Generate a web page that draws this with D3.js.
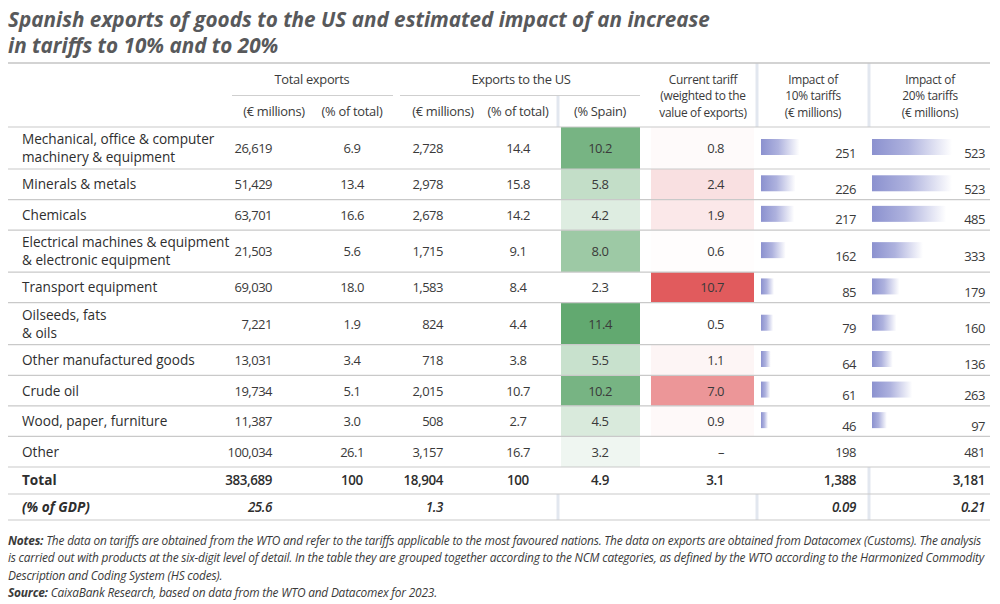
<!DOCTYPE html>
<html>
<head>
<meta charset="utf-8">
<script src="https://cdn.jsdelivr.net/npm/d3@7"></script>
<style>
  body { margin: 0; background: #fff; }
  svg text { font-family: "Open Sans", "Noto Sans", sans-serif; }
</style>
</head>
<body>
<script>
// data
const categories = [
  ["Mechanical, office & computer", "machinery & equipment"],
  ["Minerals & metals"],
  ["Chemicals"],
  ["Electrical machines & equipment", "& electronic equipment"],
  ["Transport equipment"],
  ["Oilseeds, fats", "& oils"],
  ["Other manufactured goods"],
  ["Crude oil"],
  ["Wood, paper, furniture"],
  ["Other"]
];
const totalExports = [26619, 51429, 63701, 21503, 69030, 7221, 13031, 19734, 11387, 100034];
const totalShare = [6.9, 13.4, 16.6, 5.6, 18.0, 1.9, 3.4, 5.1, 3.0, 26.1];
const usExports = [2728, 2978, 2678, 1715, 1583, 824, 718, 2015, 508, 3157];
const usShare = [14.4, 15.8, 14.2, 9.1, 8.4, 4.4, 3.8, 10.7, 2.7, 16.7];
const spainShare = [10.2, 5.8, 4.2, 8.0, 2.3, 11.4, 5.5, 10.2, 4.5, 3.2];
const tariff = [0.8, 2.4, 1.9, 0.6, 10.7, 0.5, 1.1, 7.0, 0.9, null];
const impact10 = [251, 226, 217, 162, 85, 79, 64, 61, 46, 198];
const impact20 = [523, 523, 485, 333, 179, 160, 136, 263, 97, 481];
const hasBar = [true, true, true, true, true, true, true, true, true, false];

const totals = {label: "Total", te: 383689, ts: 100, ue: 18904, us: 100, sp: 4.9, tf: 3.1, i10: 1388, i20: 3181};
const gdp = {label: "(% of GDP)", te: 25.6, ue: 1.3, i10: 0.09, i20: 0.21};

const title = ["Spanish exports of goods to the US and estimated impact of an increase",
               "in tariffs to 10% and to 20%"];
const notes = [
  ["Notes:", " The data on tariffs are obtained from the WTO and refer to the tariffs applicable to the most favoured nations. The data on exports are obtained from Datacomex (Customs). The analysis"],
  ["", "is carried out with products at the six-digit level of detail. In the table they are grouped together according to the NCM categories, as defined by the WTO according to the Harmonized Commodity"],
  ["", "Description and Coding System (HS codes)."],
  ["Source:", " CaixaBank Research, based on data from the WTO and Datacomex for 2023."]
];

const W = 1000, H = 604;
const svg = d3.select("body").append("svg").attr("width", W).attr("height", H);

const fmt = d3.format(",");
const fmt1 = d3.format(".1f");

// title
svg.selectAll(".title").data(title).enter().append("text")
  .attr("x", 8).attr("y", (d, i) => 27 + i * 26)
  .attr("font-size", 20.7).attr("font-weight", 700).attr("font-style", "italic")
  .attr("fill", "#58595b").text(d => d);

const left = 8, right = 990;
const textCol = "#3a3a3a";
const vs = 13;

// row layout
const headTop = 63, bodyTop = 127, single = 30.57, dbl = 42;
let ys = [], y = bodyTop;
categories.forEach(c => { const h = c.length > 1 ? dbl : single; ys.push({y0: y, h: h}); y += h; });
const totalY = y, totalH = 27, gdpY = totalY + totalH, gdpH = 26;

// colour scales
const green = d3.scaleLinear().domain([2.3, 11.4]).range(["#ffffff", "#62a970"]);
const red = d3.scaleLinear().domain([0.5, 10.7]).range(["#ffffff", "#e15b5d"]);
const barX = d3.scaleLinear().domain([0, d3.max(impact20)]).range([0, 80]);

const defs = svg.append("defs");
const grad = defs.append("linearGradient").attr("id", "barg");
grad.append("stop").attr("offset", "0%").attr("stop-color", "#8b91cf");
grad.append("stop").attr("offset", "45%").attr("stop-color", "#aeb2de");
grad.append("stop").attr("offset", "100%").attr("stop-color", "#ffffff");

// cells
const rows = svg.selectAll(".row").data(categories).enter().append("g")
  .attr("transform", (d, i) => `translate(0,${ys[i].y0})`);

rows.append("rect").attr("x", 561).attr("width", 79).attr("y", 0)
  .attr("height", (d, i) => ys[i].h).attr("fill", (d, i) => green(spainShare[i]));
rows.append("rect").attr("x", 651).attr("width", 103).attr("y", 0)
  .attr("height", (d, i) => ys[i].h)
  .attr("fill", (d, i) => tariff[i] == null ? "#fff" : red(tariff[i]));

rows.filter((d, i) => hasBar[i]).append("rect").attr("x", 761)
  .attr("y", d => ys[categories.indexOf(d)].h / 2 - 9)
  .attr("height", 16).attr("width", d => barX(impact10[categories.indexOf(d)]))
  .attr("fill", "url(#barg)");
rows.filter((d, i) => hasBar[i]).append("rect").attr("x", 872)
  .attr("y", d => ys[categories.indexOf(d)].h / 2 - 9)
  .attr("height", 16).attr("width", d => barX(impact20[categories.indexOf(d)]))
  .attr("fill", "url(#barg)");

// labels
rows.each(function(d, i) {
  const g = d3.select(this), h = ys[i].h, c = h / 2;
  g.selectAll(".lab").data(d).enter().append("text")
    .attr("x", 22).attr("y", (t, j) => d.length > 1 ? c - 4 + j * 18 : c + 5)
    .attr("font-size", 13.6).attr("fill", "#2e2e2e").text(t => t);
  const cells = [
    [272, "end", fmt(totalExports[i])],
    [352, "middle", fmt1(totalShare[i])],
    [443, "end", fmt(usExports[i])],
    [518, "middle", fmt1(usShare[i])],
    [600, "middle", fmt1(spainShare[i])],
    [724, "end", tariff[i] == null ? "–" : fmt1(tariff[i])]
  ];
  cells.forEach(cl => g.append("text").attr("x", cl[0]).attr("y", c + 5)
    .attr("text-anchor", cl[1]).attr("font-size", vs).attr("fill", textCol)
    .attr("letter-spacing", -0.5).text(cl[2]));
  const off = hasBar[i] ? 9.5 : 5;
  g.append("text").attr("x", 856).attr("y", c + off).attr("text-anchor", "end")
    .attr("font-size", vs).attr("fill", textCol).attr("letter-spacing", -0.5).text(fmt(impact10[i]));
  g.append("text").attr("x", 985).attr("y", c + off).attr("text-anchor", "end")
    .attr("font-size", vs).attr("fill", textCol).attr("letter-spacing", -0.5).text(fmt(impact20[i]));
});

// vertical light separators
const vsep = [[558, 96, bodyTop], [757, headTop, bodyTop], [869, headTop, bodyTop],
              [869, totalY, gdpY + gdpH], [558, gdpY, gdpY + gdpH], [757, gdpY, gdpY + gdpH]];
svg.selectAll(".vsep").data(vsep).enter().append("line")
  .attr("x1", d => d[0]).attr("x2", d => d[0]).attr("y1", d => d[1]).attr("y2", d => d[2])
  .attr("stroke", "#e2e7ef").attr("stroke-width", 3);

// total row
const tg = svg.append("g").attr("transform", `translate(0,${totalY})`);
const tc = totalH / 2 + 5;
tg.append("text").attr("x", 22).attr("y", tc).attr("font-size", 13.6).attr("font-weight", 700)
  .attr("fill", "#2e2e2e").text(totals.label);
[[272, "end", fmt(totals.te)], [352, "middle", totals.ts], [443, "end", fmt(totals.ue)],
 [518, "middle", totals.us], [600, "middle", fmt1(totals.sp)], [724, "end", fmt1(totals.tf)],
 [856, "end", fmt(totals.i10)], [985, "end", fmt(totals.i20)]].forEach(cl =>
  tg.append("text").attr("x", cl[0]).attr("y", tc).attr("text-anchor", cl[1])
    .attr("font-size", 13.4).attr("font-weight", 600).attr("fill", "#2e2e2e")
    .attr("letter-spacing", -0.4).text(cl[2]));

// gdp row
const gg = svg.append("g").attr("transform", `translate(0,${gdpY})`);
const gc = gdpH / 2 + 5;
gg.append("text").attr("x", 22).attr("y", gc).attr("font-size", 13.6).attr("font-weight", 700)
  .attr("font-style", "italic").attr("fill", "#2e2e2e").text(gdp.label);
[[272, fmt1(gdp.te)], [443, fmt1(gdp.ue)], [856, d3.format(".2f")(gdp.i10)], [985, d3.format(".2f")(gdp.i20)]]
  .forEach(cl => gg.append("text").attr("x", cl[0]).attr("y", gc).attr("text-anchor", "end")
    .attr("font-size", 13.4).attr("font-weight", 600).attr("font-style", "italic")
    .attr("fill", "#2e2e2e").attr("letter-spacing", -0.4).text(cl[1]));

// horizontal rules
const hlines = [bodyTop].concat(ys.slice(1).map(r => r.y0)).concat([totalY, gdpY, gdpY + gdpH]);
svg.selectAll(".hl").data(hlines).enter().append("line")
  .attr("x1", left).attr("x2", right).attr("y1", d => d).attr("y2", d => d)
  .attr("stroke", "#c9c9c9").attr("stroke-width", 1.2);
svg.append("line").attr("x1", left).attr("x2", right).attr("y1", headTop).attr("y2", headTop)
  .attr("stroke", "#c4c4c4").attr("stroke-width", 1.5);

// group underlines
svg.append("line").attr("x1", 232).attr("x2", 393).attr("y1", 95.5).attr("y2", 95.5)
  .attr("stroke", "#cfcfcf").attr("stroke-width", 1.2);
svg.append("line").attr("x1", 400).attr("x2", 640).attr("y1", 95.5).attr("y2", 95.5)
  .attr("stroke", "#cfcfcf").attr("stroke-width", 1.2);

// headers
const head = (x, yy, t, fs) => svg.append("text").attr("x", x).attr("y", yy)
  .attr("text-anchor", "middle").attr("font-size", fs || 12.9).attr("fill", textCol)
  .attr("letter-spacing", -0.3).text(t);
head(312, 84, "Total exports");
head(521, 84, "Exports to the US");
[[274, "(€ millions)"], [352, "(% of total)"], [443, "(€ millions)"], [518, "(% of total)"], [600, "(% Spain)"]]
  .forEach(h => head(h[0], 116, h[1]));
const stack = [
  [703, ["Current tariff", "(weighted to the", "value of exports)"]],
  [813, ["Impact of", "10% tariffs", "(€ millions)"]],
  [930, ["Impact of", "20% tariffs", "(€ millions)"]]
];
stack.forEach(s => s[1].forEach((t, i) => head(s[0], 84 + i * 16.3, t, 11.9)));

// notes
notes.forEach((n, i) => {
  const t = svg.append("text").attr("x", 8).attr("y", 545 + i * 17.3)
    .attr("font-size", 11.9).attr("font-style", "italic").attr("fill", "#3a3a3a")
    .attr("letter-spacing", -0.2);
  if (n[0]) t.append("tspan").attr("font-weight", 700).text(n[0]);
  t.append("tspan").text(n[1]);
});
</script>
</body>
</html>
